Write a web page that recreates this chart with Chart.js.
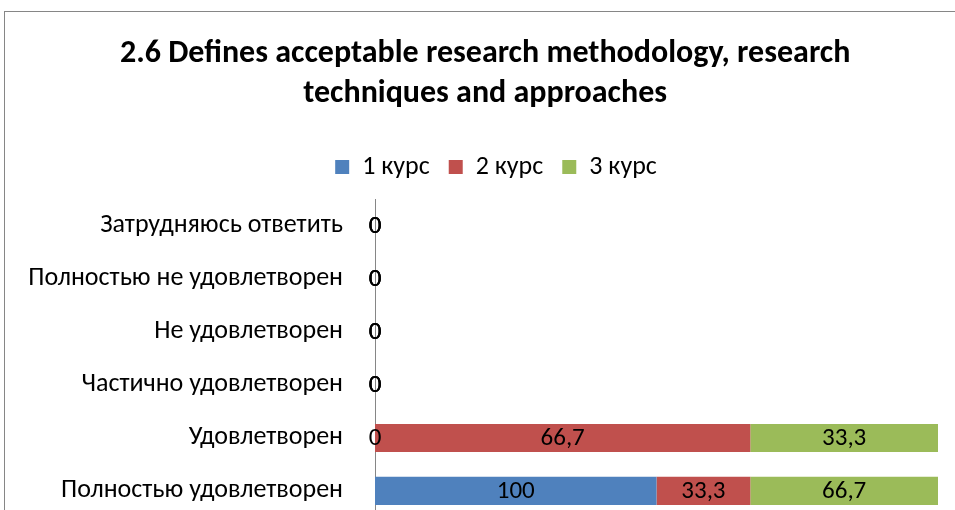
<!DOCTYPE html>
<html>
<head>
<meta charset="utf-8">
<script src="https://cdn.jsdelivr.net/npm/chart.js@4.4.0/dist/chart.umd.min.js"></script>
<style>
html,body{margin:0;padding:0;background:#fff;overflow:hidden;width:955px;height:510px;}
#wrap{position:absolute;left:0;top:0;width:975px;height:565px;}
</style>
</head>
<body>
<div id="wrap"><canvas id="c" width="975" height="565"></canvas></div>
<script>
const categories = ["Затрудняюсь ответить","Полностью не удовлетворен","Не удовлетворен","Частично удовлетворен","Удовлетворен","Полностью удовлетворен"];
const seriesNames = ["1 курс","2 курс","3 курс"];
// bar lengths as drawn in the picture
const course1 = [0,0,0,0,0,3];
const course2 = [0,0,0,0,4,1];
const course3 = [0,0,0,0,2,2];
// values printed on the bars
const course1Labels = [0,0,0,0,0,100];
const course2Labels = [0,0,0,0,66.7,33.3];
const course3Labels = [0,0,0,0,33.3,66.7];
const axisMin = 0;
const axisMax = 6;
const titleLines = ["2.6 Defines acceptable research methodology, research   ","techniques and approaches   "];

const FONT = "Carlito, Calibri, 'Open Sans', sans-serif";
const colors = ["#4F81BD","#C0504D","#9BBB59"];
const printed = [course1Labels, course2Labels, course3Labels];

const frame = {
  id:'frame',
  beforeDraw(chart){
    const ctx = chart.ctx;
    ctx.save();
    ctx.strokeStyle = '#868686';
    ctx.lineWidth = 1;
    ctx.strokeRect(4.5, 11.5, 964, 700);
    ctx.restore();
  }
};
const labelsPlugin = {
  id:'valLabels',
  afterDatasetsDraw(chart){
    const ctx = chart.ctx;
    ctx.save();
    ctx.font = "25px " + FONT;
    ctx.fillStyle = '#000';
    ctx.textAlign = 'center';
    ctx.textBaseline = 'middle';
    chart.data.datasets.forEach((ds, i) => {
      const meta = chart.getDatasetMeta(i);
      meta.data.forEach((bar, j) => {
        const txt = String(printed[i][j]).replace('.', ',');
        ctx.fillText(txt, (bar.x + bar.base) / 2, bar.y + 1);
      });
    });
    ctx.restore();
  }
};

new Chart(document.getElementById('c'), {
  type:'bar',
  data:{
    labels: categories,
    datasets:[
      {label: seriesNames[0], data: course1, backgroundColor: colors[0]},
      {label: seriesNames[1], data: course2, backgroundColor: colors[1]},
      {label: seriesNames[2], data: course3, backgroundColor: colors[2]}
    ]
  },
  options:{
    indexAxis:'y',
    responsive:false,
    animation:false,
    events:[],
    layout:{padding:{left:24, right:7, top:34, bottom:22.5}},
    datasets:{bar:{categoryPercentage:1, barPercentage:0.53}},
    scales:{
      x:{stacked:true, min:axisMin, max:axisMax, display:false},
      xTop:{type:'linear', position:'top', display:true, min:0, max:1,
            grid:{display:false, drawTicks:false}, border:{display:false},
            ticks:{display:false}, afterFit(s){ s.height = 9.5; }},
      y:{stacked:true, grid:{display:false, drawTicks:false},
         border:{display:true, color:'#868686', width:1},
         ticks:{color:'#000', padding:32, font:{family:FONT, size:26}},
         afterFit(s){ s.width = 351; }},
      yR:{type:'category', position:'right', display:true,
          grid:{display:false, drawTicks:false}, border:{display:false},
          ticks:{display:false}, afterFit(s){ s.width = 30; }}
    },
    plugins:{
      tooltip:{enabled:false},
      title:{display:true, text:titleLines, color:'#000',
             font:{family:FONT, size:32, weight:'bold', lineHeight:1.25}, padding:{top:0, bottom:21}},
      legend:{position:'top', labels:{color:'#000', boxWidth:14, boxHeight:14, padding:19,
             font:{family:FONT, size:26}}}
    }
  },
  plugins:[frame, labelsPlugin]
});
</script>
</body>
</html>
